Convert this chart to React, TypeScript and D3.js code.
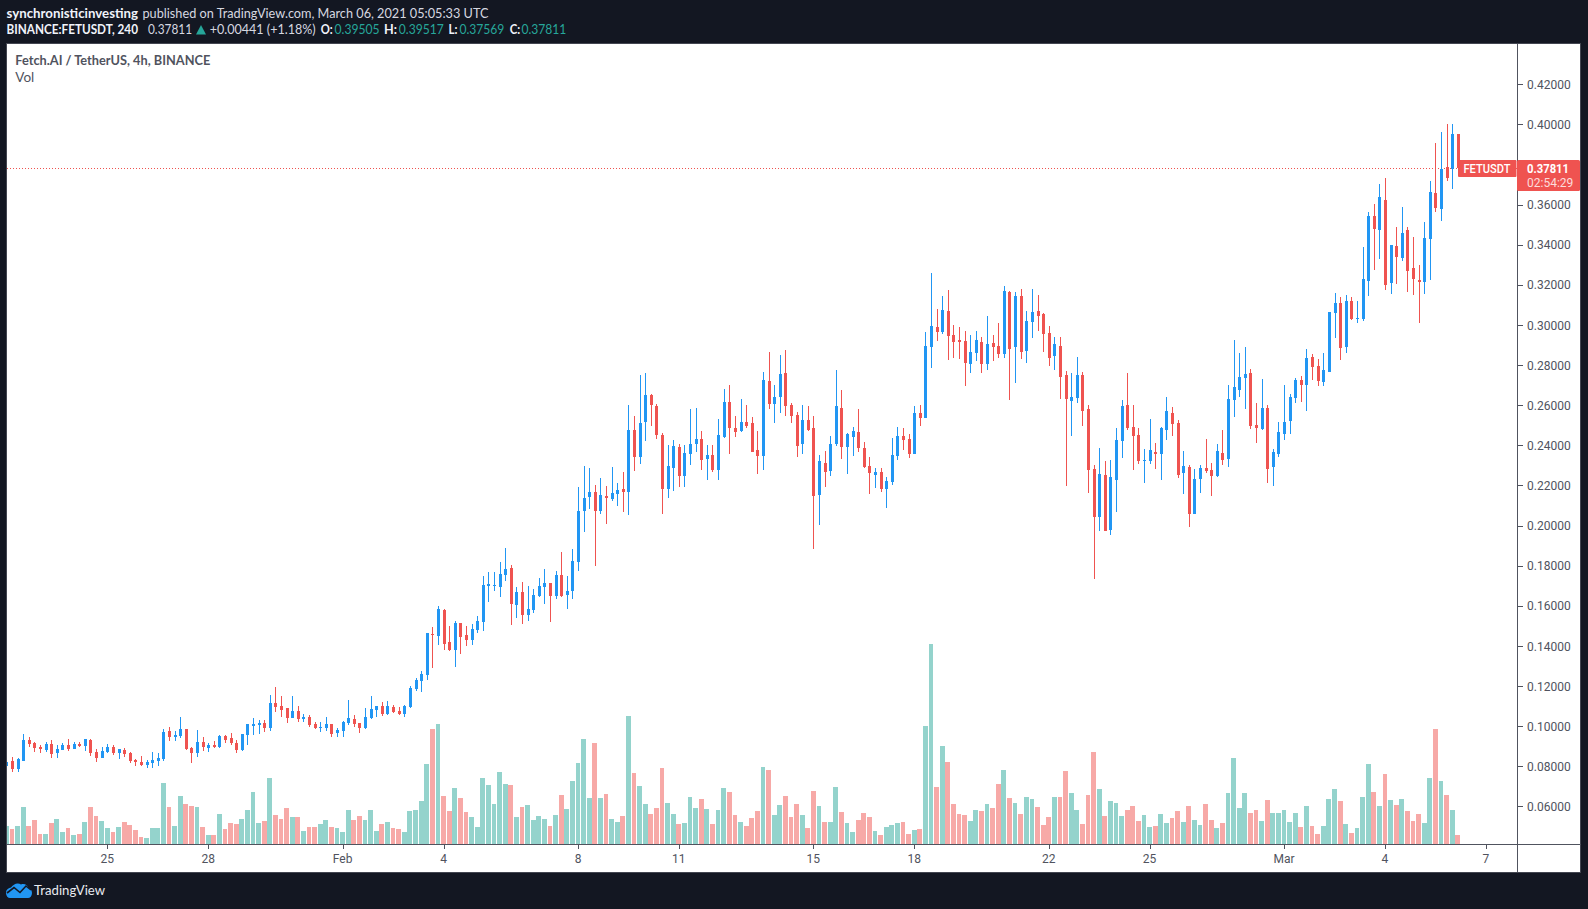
import React from "react";
import * as d3 from "d3";

// Prices in thousandths of a USDT, one value per 4h candle
const opens = [
80.2,82.7,78.7,82.7,93.1,91.6,89.6,88.2,91.1,86.7,88.2,90.6,88.7,91.1,90.1,93.1,87.2,84.2,87.2,89.6,
86.7,88.2,86.7,83.2,82.2,80.7,81.7,82.7,83.7,97.6,94.6,95.1,98.6,89.2,86.7,92.1,89.2,90.6,89.6,95.1,
94.1,91.6,88.2,95.6,100.1,100.6,101.6,99.1,111.6,110.1,109.1,104.1,107.6,103.6,104.6,101.1,99.1,99.1,101.1,96.6,
97.6,101.6,103.6,101.6,99.1,104.1,108.1,110.1,106.1,109.6,107.6,106.1,109.6,118.5,122.5,125.5,145.9,144.9,157.9,141.9,
138.0,151.4,145.4,143.0,147.9,151.9,169.9,169.9,169.4,175.4,178.8,160.4,166.9,155.4,157.9,164.9,169.4,171.4,164.9,175.4,
165.4,167.4,181.8,207.3,214.2,216.7,207.3,214.7,213.2,215.7,218.2,216.7,247.6,234.2,251.6,265.1,259.6,245.2,218.2,228.7,
239.2,224.7,235.7,240.7,243.2,233.2,235.2,227.7,244.1,261.6,248.6,247.1,251.6,251.1,237.7,234.7,272.1,260.6,264.1,276.1,
260.1,255.1,240.7,252.6,248.6,215.2,231.2,227.2,240.7,258.6,239.2,244.1,246.6,238.7,229.7,225.2,226.7,218.2,221.7,234.7,
244.6,243.2,235.7,256.1,253.6,289.0,299.0,296.5,307.0,295.0,292.5,292.0,280.5,286.0,291.5,280.5,291.0,289.5,285.5,316.4,
289.0,314.4,287.0,301.5,307.0,305.5,296.0,284.5,289.5,275.1,262.1,263.6,275.1,258.1,228.2,204.2,225.2,197.8,222.7,242.1,
260.1,249.1,245.1,232.2,232.2,236.7,235.7,247.6,256.1,251.1,226.2,229.2,205.7,223.2,228.7,227.7,224.7,236.2,233.2,262.6,
267.6,273.6,276.1,250.1,248.1,258.6,229.2,235.7,245.6,252.1,263.6,272.6,270.1,284.0,279.6,271.6,276.6,306.0,311.0,289.0,
312.0,303.0,303.0,321.9,354.3,347.4,362.3,320.9,339.4,333.4,347.4,328.4,322.4,321.4,342.9,365.8,357.8,378.8,377.8,395.05,
];
const highs = [
82.8,84.7,84.0,96.1,94.6,92.1,90.6,92.1,93.1,90.6,91.6,93.6,92.1,92.1,93.6,93.6,88.7,89.6,91.1,90.6,
88.7,89.2,87.2,83.7,85.2,83.2,87.2,86.7,98.6,99.6,97.6,104.6,98.6,89.6,98.1,94.6,91.6,92.6,95.6,95.6,
96.6,93.1,96.1,101.1,104.1,103.1,103.1,115.6,119.6,115.1,109.1,115.1,110.1,106.1,105.6,102.1,102.1,104.6,101.1,99.1,
102.6,113.1,105.6,101.6,109.1,115.1,110.1,112.1,112.6,110.6,109.6,110.6,120.1,124.1,127.5,146.5,149.4,159.9,158.4,149.9,
152.4,151.4,149.9,150.9,154.9,174.9,176.9,176.9,181.8,188.8,180.3,169.4,171.9,169.9,168.4,173.9,178.3,171.4,177.3,186.8,
174.9,188.3,219.2,229.7,228.7,220.2,223.7,219.7,229.2,221.2,226.7,260.1,254.6,275.1,276.1,265.6,260.6,246.2,240.2,242.7,
240.7,240.2,258.1,258.6,247.1,240.2,240.2,253.1,268.1,270.1,254.6,263.1,260.1,254.1,247.1,276.6,286.5,270.1,285.0,287.5,
261.1,256.6,260.1,259.6,254.6,235.2,237.2,244.6,277.6,267.6,246.1,249.1,258.1,241.7,234.2,228.7,228.7,224.2,243.6,249.1,
248.6,245.6,259.6,260.1,296.5,325.9,308.0,314.4,317.4,300.0,299.0,297.0,295.0,297.0,294.0,304.5,295.0,301.0,319.4,316.9,
316.4,317.9,307.0,317.9,314.9,306.0,299.5,294.0,294.0,277.0,276.0,284.0,276.5,260.1,230.2,238.6,232.2,232.7,248.6,262.6,
276.0,260.1,248.6,238.2,253.1,241.1,249.1,264.1,259.1,252.6,237.2,230.2,228.2,230.2,243.1,231.2,240.6,247.6,270.1,292.5,
286.0,289.0,278.1,261.1,273.1,260.1,238.2,251.6,270.1,265.6,273.6,274.6,288.0,285.5,283.0,286.0,306.5,316.0,314.0,315.0,
314.0,312.0,338.9,356.3,360.3,370.3,373.3,339.9,348.9,358.8,348.9,343.9,329.9,351.4,371.8,390.7,396.2,400.2,400.2,395.17,
];
const lows = [
73.2,77.2,77.2,82.7,89.8,87.2,86.7,87.2,84.2,84.2,88.2,87.7,88.7,89.6,87.7,85.2,82.2,84.2,86.7,85.7,
83.7,84.7,81.7,80.2,80.2,79.2,79.2,80.2,82.7,92.6,92.6,94.1,88.2,81.7,84.7,87.7,87.2,89.2,89.2,91.6,
90.6,86.7,87.7,90.6,95.6,96.1,97.1,97.6,107.1,104.6,101.6,104.1,102.1,102.1,99.6,98.6,97.1,97.6,94.6,94.6,
94.6,100.6,99.6,96.6,98.6,103.6,104.6,105.1,105.6,106.6,105.6,104.6,109.1,117.6,117.1,123.0,129.0,140.4,138.0,137.5,
129.5,136.0,140.0,140.4,146.4,147.4,161.9,167.4,164.4,172.4,150.4,153.9,150.9,152.4,156.4,164.4,160.9,151.9,163.4,164.4,
158.4,163.4,177.3,196.8,208.3,179.8,205.8,200.8,212.2,209.8,206.8,205.3,227.2,230.7,242.2,249.6,243.2,205.8,213.7,217.2,
219.2,219.2,230.2,236.7,227.7,222.7,226.7,222.7,243.6,235.7,244.1,246.6,248.6,236.7,225.7,227.7,258.1,251.1,256.1,254.6,
251.1,234.2,235.7,247.1,188.3,200.3,219.2,224.7,239.7,233.2,225.7,234.7,236.7,228.7,215.7,218.7,216.7,208.8,220.2,232.7,
237.7,233.7,235.7,249.6,253.6,278.6,292.0,295.5,282.5,283.5,283.0,269.6,276.1,282.0,276.0,277.5,282.0,283.5,283.5,262.6,
271.1,283.0,281.0,293.5,297.0,286.5,279.5,277.5,263.1,219.7,244.6,261.1,249.6,216.2,173.3,197.3,197.3,195.3,206.7,233.7,
247.6,227.7,230.7,221.2,230.7,228.2,222.7,242.6,244.6,223.7,215.7,199.3,205.7,216.2,226.2,214.7,224.2,230.2,229.2,254.1,
264.1,258.1,248.1,241.2,247.6,221.2,219.7,234.2,242.7,245.6,261.1,261.6,257.1,272.6,269.6,269.6,276.6,293.5,282.5,286.0,
302.5,301.0,302.0,314.5,327.4,332.9,317.5,315.5,320.4,331.9,316.5,315.0,301.0,315.5,322.4,356.3,351.9,371.8,367.8,375.69,
];
const closes = [
82.3,78.7,83.7,93.1,91.1,89.2,88.7,91.1,86.2,88.7,90.6,88.7,91.1,90.1,93.6,86.7,84.2,87.7,89.6,86.7,
88.7,86.2,82.7,82.2,80.7,82.2,83.2,84.2,97.1,94.6,95.6,98.6,88.7,86.7,92.1,89.6,90.6,89.6,95.1,93.1,
91.6,88.2,96.1,101.1,101.1,101.6,99.1,111.6,109.6,108.1,104.1,107.6,103.6,104.6,100.6,99.1,99.6,101.1,96.1,98.1,
102.1,104.1,101.1,99.1,104.6,108.6,110.1,106.1,110.1,107.1,106.1,110.1,119.1,123.1,126.0,146.5,145.4,158.4,141.0,138.0,
151.4,144.4,143.0,148.4,152.4,170.4,170.9,170.4,175.9,178.3,160.9,166.9,155.4,158.4,165.4,169.9,171.4,164.9,175.4,164.9,
167.4,182.3,207.3,213.7,216.7,207.3,215.2,213.7,216.2,217.7,216.7,247.6,234.2,251.1,265.1,260.1,245.2,218.2,229.7,239.7,
224.7,236.2,240.7,243.2,232.7,235.2,227.7,245.1,261.6,248.6,246.6,251.6,249.6,236.7,234.7,272.6,260.6,264.1,275.6,259.6,
254.6,239.7,252.6,247.6,214.7,232.2,226.7,240.7,259.6,239.2,245.6,247.1,238.7,229.2,226.2,226.7,218.2,222.2,235.2,244.6,
242.7,235.7,256.1,253.6,289.5,299.5,296.5,307.5,294.5,291.5,291.5,281.0,286.5,292.5,280.5,290.5,289.0,285.5,316.9,288.0,
314.4,286.5,302.0,306.5,304.5,295.5,283.5,290.5,274.1,263.1,264.1,275.1,257.1,227.7,204.2,225.7,197.3,224.2,242.6,259.6,
248.6,244.6,232.2,232.7,237.7,235.7,248.6,257.1,250.6,225.2,229.7,205.7,223.2,228.7,227.2,224.7,237.2,232.7,263.1,269.1,
274.1,275.6,249.6,248.6,258.6,228.2,236.7,246.6,251.6,264.1,272.6,270.1,283.5,279.1,272.1,277.6,306.5,311.0,288.5,312.0,
303.0,303.5,322.9,354.3,347.9,363.8,319.9,339.9,333.9,345.9,326.9,322.9,321.4,343.4,366.3,358.3,377.8,373.3,395.2,378.11,
];
const volumes = [
54,45,54,111,54,72,30,30,63,75,36,48,27,30,66,111,84,69,48,36,
51,66,57,42,21,18,48,48,183,111,54,144,120,114,111,51,27,27,90,45,
63,60,75,102,156,63,69,198,87,75,108,81,81,39,51,51,60,72,51,48,
36,102,72,84,72,102,39,60,66,48,45,36,99,102,129,240,345,360,144,99,
168,138,96,81,51,198,177,120,216,180,177,81,111,117,72,84,75,54,87,147,
105,189,243,315,138,303,138,150,75,66,84,384,213,174,120,90,108,228,123,90,
60,63,141,108,135,105,60,102,168,156,87,66,54,78,99,231,222,87,117,144,
81,120,87,48,159,114,66,66,171,96,63,36,72,93,81,39,27,51,57,63,
66,30,42,45,354,600,171,294,246,120,90,87,69,102,99,120,108,180,222,138,
123,90,141,135,111,57,81,141,141,219,153,102,60,147,276,165,84,129,123,84,
102,114,69,87,51,54,90,63,78,99,66,114,72,57,120,72,48,63,153,258,
108,153,93,102,69,132,93,93,102,66,93,51,114,54,30,54,135,165,129,60,
33,48,141,240,156,114,210,132,117,135,99,69,90,63,198,345,189,147,102,28,
];
const priceTicks = [0.42,0.4,0.36,0.34,0.32,0.3,0.28,0.26,0.24,0.22,0.2,0.18,0.16,0.14,0.12,0.1,0.08,0.06];
const timeTickIndex = [18,36,60,78,102,120,144,162,186,204,228,246,264];
const timeTickLabels = ["25","28","Feb","4","8","11","15","18","22","25","Mar","4","7"];
const lastPrice = 0.37811;

const W = 1588, H = 909;
const BG = "#131722", UP = "#2196F3", DOWN = "#EF5350", VUP = "#94D3CC", VDOWN = "#F7A9A7", AX = "#50535E";
const FONT = "Lato, sans-serif";
const AXF = "Roboto, sans-serif";
const L = 7, R = 1517.5, T = 43.5, B = 872, AY = 844;

const x = d3.scaleLinear().domain([18, 264]).range([107.3, 1485.8]);
const y = d3.scaleLinear().domain([0.06, 0.42]).range([806.4, 84.3]);
const v = d3.scaleLinear().domain([0, 600]).range([AY, 644]);

type Seg = { t: string; x: number; w: number; c: string; b?: boolean };
const line1: Seg[] = [
  { t: "synchronisticinvesting", x: 6.5, w: 131.5, c: "#F0F3FA", b: true },
  { t: "published on TradingView.com, March 06, 2021 05:05:33 UTC", x: 142.5, w: 346, c: "#D6D8E0" },
];
const line2: Seg[] = [
  { t: "BINANCE:FETUSDT, 240", x: 6.5, w: 131.5, c: "#F0F3FA", b: true },
  { t: "0.37811", x: 148, w: 44, c: "#D6D8E0" },
  { t: "+0.00441 (+1.18%)", x: 209.7, w: 106, c: "#D6D8E0" },
  { t: "O:", x: 320.7, w: 12, c: "#F0F3FA", b: true },
  { t: "0.39505", x: 334.5, w: 45, c: "#26A69A" },
  { t: "H:", x: 384, w: 13, c: "#F0F3FA", b: true },
  { t: "0.39517", x: 398.8, w: 45, c: "#26A69A" },
  { t: "L:", x: 448.5, w: 9, c: "#F0F3FA", b: true },
  { t: "0.37569", x: 459.4, w: 45, c: "#26A69A" },
  { t: "C:", x: 509.8, w: 10.5, c: "#F0F3FA", b: true },
  { t: "0.37811", x: 521.4, w: 45, c: "#26A69A" },
];

export default function App() {
  const k = 0.001;
  return (
    <svg width={W} height={H} viewBox={`0 0 ${W} ${H}`} style={{ position: "fixed", left: 0, top: 0, display: "block" }}>
      <defs>
        <clipPath id="pane"><rect x={L} y={T} width={R - L} height={AY - T} /></clipPath>
      </defs>
      <rect width={W} height={H} fill={BG} />
      {[line1, line2].map((ln, li) => ln.map((s, i) => (
        <text key={`${li}-${i}`} x={s.x} y={li === 0 ? 12.7 : 29} dominantBaseline="central" fontFamily={FONT} fontSize={13.5}
          fontWeight={s.b ? 700 : 400} fill={s.c} textLength={s.w} lengthAdjust="spacingAndGlyphs">{s.t}</text>
      )))}
      <path d="M196 34.5 L201 25 L206 34.5 Z" fill="#26A69A" />

      <rect x={6.5} y={43.5} width={1574} height={829} fill="#fff" stroke="#434651" strokeWidth={1} />

      <g clipPath="url(#pane)" shapeRendering="crispEdges">
        {volumes.map((d, i) => {
          const cx = x(i);
          const l = Math.round(cx - 2.4), r = Math.round(cx + 2.4);
          return <rect key={i} x={l} y={v(d)} width={r - l} height={AY - v(d)} fill={closes[i] >= opens[i] ? VUP : VDOWN} />;
        })}
        <line x1={L} x2={R} y1={y(lastPrice)} y2={y(lastPrice)} stroke={DOWN} strokeWidth={1} strokeDasharray="1 2" />
        {opens.map((o, i) => {
          const c = closes[i], col = c >= o ? UP : DOWN, xc = Math.round(x(i));
          const top = y(Math.max(o, c) * k), bot = y(Math.min(o, c) * k);
          return (
            <g key={i} fill={col}>
              <rect x={xc} y={y(highs[i] * k)} width={1} height={y(lows[i] * k) - y(highs[i] * k)} />
              <rect x={xc - 1} y={Math.round(top)} width={3} height={Math.max(1, Math.round(bot) - Math.round(top))} />
            </g>
          );
        })}
      </g>

      <g shapeRendering="crispEdges" stroke={AX}>
        <line x1={R} x2={R} y1={T} y2={B} />
        <line x1={L} x2={1581} y1={AY + 0.5} y2={AY + 0.5} />
        {priceTicks.map(p => <line key={p} x1={R} x2={R + 5} y1={Math.round(y(p)) + 0.5} y2={Math.round(y(p)) + 0.5} />)}
        {timeTickIndex.map(i => <line key={i} x1={Math.round(x(i)) + 0.5} x2={Math.round(x(i)) + 0.5} y1={AY} y2={AY + 5} />)}
      </g>
      <g fontFamily={AXF} fontSize={12} fill={AX}>
        {priceTicks.map(p => <text key={p} x={1527} y={y(p) + 0.6} dominantBaseline="central">{p.toFixed(5)}</text>)}
        {timeTickIndex.map((i, n) => <text key={i} x={x(i)} y={858.5} textAnchor="middle" dominantBaseline="central">{timeTickLabels[n]}</text>)}
      </g>

      <text x={15.3} y={60} dominantBaseline="central" fontFamily={FONT} fontSize={13.5} fontWeight={700} fill={AX} textLength={195} lengthAdjust="spacingAndGlyphs">Fetch.AI / TetherUS, 4h, BINANCE</text>
      <text x={15.3} y={77} dominantBaseline="central" fontFamily={FONT} fontSize={13.5} fill={AX}>Vol</text>

      <rect x={1458} y={160} width={58.5} height={17} rx={1} fill={DOWN} />
      <text x={1463.5} y={168.7} dominantBaseline="central" fontFamily={AXF} fontSize={12} fontWeight={500} fill="#fff" textLength={47} lengthAdjust="spacingAndGlyphs">FETUSDT</text>
      <rect x={1517} y={160} width={63} height={31} rx={1.5} fill={DOWN} />
      <text x={1527} y={168.7} dominantBaseline="central" fontFamily={AXF} fontSize={12} fontWeight={700} fill="#fff" textLength={42} lengthAdjust="spacingAndGlyphs">{lastPrice.toFixed(5)}</text>
      <text x={1527} y={183} dominantBaseline="central" fontFamily={AXF} fontSize={12} fill="#FCDCDB">02:54:29</text>

      <g>
        <path d="M6 893 C6 889 9 888 11 887.5 C13 884 18 882 21 884.5 C24 883 28 885 28.5 888 C31 888.5 32 891 32 893 C32 896 30 898 28 898 L10 898 C8 898 6 896 6 893 Z" fill={UP} />
        <path d="M7 893 L14 887.5 L20 892.5 L26 886 L31 890" fill="none" stroke={BG} strokeWidth={1.6} />
      </g>
      <text x={34} y={890} dominantBaseline="central" fontFamily={FONT} fontSize={13.5} fill="#E8EAF0" textLength={71} lengthAdjust="spacingAndGlyphs">TradingView</text>
    </svg>
  );
}
